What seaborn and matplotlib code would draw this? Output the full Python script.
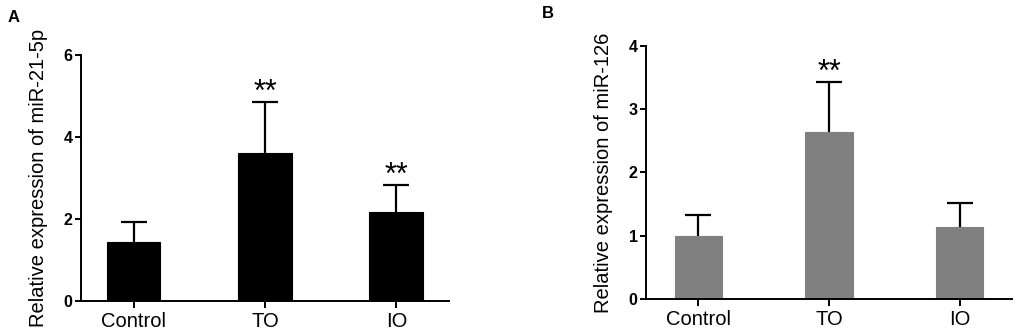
import pandas as pd
import numpy as np
import matplotlib.pyplot as plt
import seaborn as sns

# データ
categories = ['Control', 'TO', 'IO']
mir21_mean = [1.44, 3.62, 2.16]
mir21_err = [0.49, 1.23, 0.67]
mir21_sig = ['', '**', '**']
mir126_mean = [1.00, 2.63, 1.13]
mir126_err = [0.33, 0.79, 0.39]
mir126_sig = ['', '**', '']

sns.set_style('ticks', {'axes.edgecolor': 'black', 'text.color': 'black',
                        'axes.labelcolor': 'black', 'xtick.color': 'black',
                        'ytick.color': 'black'})
plt.rcParams['font.family'] = ['Liberation Sans', 'DejaVu Sans']


def draw_panel(ax, means, errs, sig, color, width, ylabel, ymax, yticks):
    df = pd.DataFrame({'group': categories, 'value': means})
    sns.barplot(data=df, x='group', y='value', ax=ax, color=color,
                width=width, edgecolor=color, linewidth=0.8, saturation=1)
    x = np.arange(len(categories))
    # 上側だけのエラーバー
    eb = ax.errorbar(x, means, yerr=[np.zeros(len(errs)), errs], fmt='none',
                     ecolor='black', elinewidth=1.6, capsize=9.5, capthick=1.6)
    eb[1][0].set_visible(False)
    for xi, m, e, s in zip(x, means, errs, sig):
        if s:
            ax.annotate(s, (xi, m + e), xytext=(0, 1), textcoords='offset points',
                        ha='center', va='baseline', fontsize=22, color='black')
    ax.set_xlim(-0.4, 2.4)
    ax.set_ylim(0, ymax)
    ax.set_yticks(yticks)
    ax.set_xlabel('')
    ax.set_ylabel(ylabel, fontsize=14.5, labelpad=11)
    sns.despine(ax=ax)
    for sp in ['left', 'bottom']:
        ax.spines[sp].set_linewidth(1.4)
    ax.tick_params(axis='x', labelsize=14.5, width=1.4, length=5, pad=3)
    ax.tick_params(axis='y', labelsize=11.5, width=1.4, length=4, pad=2)
    for lab in ax.get_yticklabels():
        lab.set_fontweight('bold')


fig = plt.figure(figsize=(10.21, 3.32), dpi=100)
ax1 = fig.add_axes([0.0793, 0.0934, 0.3604, 0.741])
ax2 = fig.add_axes([0.6327, 0.0994, 0.3585, 0.763])

draw_panel(ax1, mir21_mean, mir21_err, mir21_sig, 'black', 0.41,
           'Relative expression of miR-21-5p', 6, [0, 2, 4, 6])
draw_panel(ax2, mir126_mean, mir126_err, mir126_sig, '#808080', 0.36,
           'Relative expression of miR-126', 4, [0, 1, 2, 3, 4])

fig.text(0.007, 0.935, 'A', fontsize=12, fontweight='bold')
fig.text(0.531, 0.945, 'B', fontsize=12, fontweight='bold')

fig.savefig('out.png', dpi=100)
